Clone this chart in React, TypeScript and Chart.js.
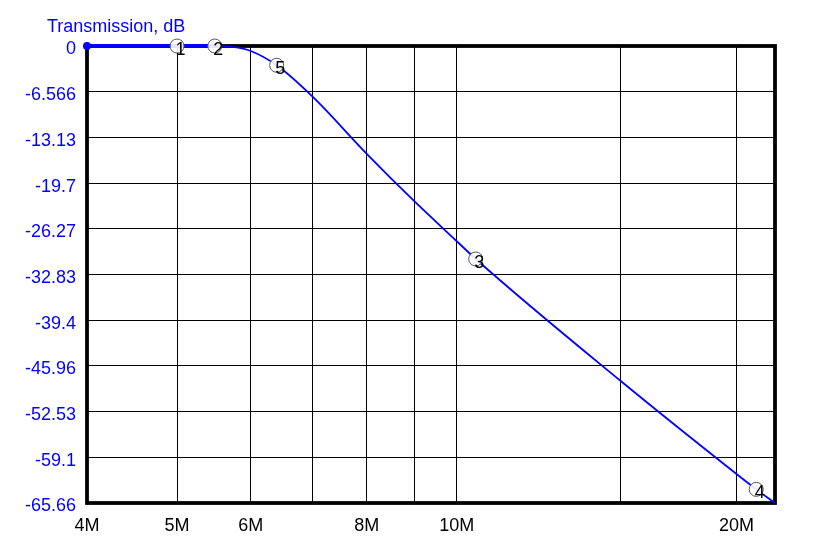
import React, { useEffect, useRef } from "react";
import { Chart, registerables } from "chart.js";

Chart.register(...registerables);

const curveFreqMHz = [4, 5, 5.49, 5.74, 6.0, 6.4, 7.0, 8.0, 9.0, 10.0, 10.48, 15.0, 20.0, 21.0, 22.0];
const curveDb = [0, 0, 0, -0.14, -0.72, -2.77, -7.32, -15.5, -22.3, -28.05, -30.6, -48.1, -61.5, -63.7, -65.66];

const markerFreqMHz = [5, 5.49, 10.48, 21.0, 6.4];
const markerDb = [0, 0, -30.6, -63.7, -2.77];
const markerLabels = ["1", "2", "3", "4", "5"];

const xGridMHz = [4, 5, 6, 7, 8, 9, 10, 15, 20];
const xLabelMHz = [4, 5, 6, 8, 10, 20];

const yTickValues = [0, -6.566, -13.132, -19.698, -26.264, -32.83, -39.396, -45.962, -52.528, -59.094, -65.66];
const yTickLabels = ["0", "-6.566", "-13.13", "-19.7", "-26.27", "-32.83", "-39.4", "-45.96", "-52.53", "-59.1", "-65.66"];

const yTitle = "Transmission, dB";

const FONT = "'Liberation Sans', Arial, sans-serif";
const BLUE = "#0000ff";

export default function App() {
  const canvasRef = useRef<HTMLCanvasElement | null>(null);

  useEffect(() => {
    const canvas = canvasRef.current;
    if (!canvas) return;

    const framePlugin = {
      id: "frame",
      beforeDatasetsDraw(chart: any) {
        const { ctx, chartArea } = chart;
        ctx.save();
        ctx.strokeStyle = "#000";
        ctx.lineWidth = 3.8;
        ctx.strokeRect(chartArea.left, chartArea.top, chartArea.right - chartArea.left, chartArea.bottom - chartArea.top);
        ctx.restore();
      },
      afterDraw(chart: any) {
        const { ctx } = chart;
        ctx.save();
        ctx.fillStyle = BLUE;
        ctx.font = `18px ${FONT}`;
        ctx.textAlign = "left";
        ctx.textBaseline = "alphabetic";
        ctx.fillText(yTitle, 47, 31.5);
        const meta = chart.getDatasetMeta(1);
        ctx.fillStyle = "#000";
        ctx.textAlign = "center";
        ctx.textBaseline = "middle";
        meta.data.forEach((pt: any, i: number) => {
          ctx.fillText(markerLabels[i], pt.x + 3.5, pt.y + 4);
        });
        ctx.restore();
      },
    };

    const chart = new Chart(canvas, {
      type: "line",
      data: {
        datasets: [
          {
            data: curveFreqMHz.map((f, i) => ({ x: f * 1e6, y: curveDb[i] })),
            borderColor: BLUE,
            borderWidth: 1.8,
            pointRadius: curveFreqMHz.map((_, i) => (i === 0 ? 4 : 0)),
            pointBackgroundColor: BLUE,
            pointBorderColor: BLUE,
            pointBorderWidth: 0,
            cubicInterpolationMode: "monotone",
            clip: false as any,
            segment: {
              borderWidth: (c: any) => (c.p0.parsed.y === 0 && c.p1.parsed.y === 0 ? 4 : 1.8),
            },
            order: 2,
          },
          {
            data: markerFreqMHz.map((f, i) => ({ x: f * 1e6, y: markerDb[i] })),
            showLine: false,
            pointRadius: 7,
            pointBackgroundColor: "rgba(255,255,255,0.9)",
            pointBorderColor: "#555",
            pointBorderWidth: 1,
            clip: false as any,
            order: 1,
          },
        ],
      },
      options: {
        animation: false,
        responsive: false,
        devicePixelRatio: 1,
        events: [],
        layout: { padding: { left: 0, top: 46, right: 44, bottom: 0 } },
        plugins: {
          legend: { display: false },
          tooltip: { enabled: false },
          title: { display: false },
        },
        scales: {
          x: {
            type: "logarithmic",
            min: 4e6,
            max: 22e6,
            afterBuildTicks: (scale: any) => {
              scale.ticks = xGridMHz.map((v) => ({ value: v * 1e6 }));
            },
            afterFit: (scale: any) => {
              scale.height = 48;
            },
            ticks: {
              autoSkip: false,
              maxRotation: 0,
              minRotation: 0,
              padding: 12,
              color: "#000",
              font: { family: FONT, size: 18 },
              callback: (value: any) => {
                const m = Number(value) / 1e6;
                return xLabelMHz.some((l) => Math.abs(l - m) < 1e-6) ? `${Math.round(m)}M` : "";
              },
            },
            grid: { color: "#000", lineWidth: 1, drawTicks: false },
            border: { display: false },
          },
          y: {
            type: "linear",
            min: -65.66,
            max: 0,
            afterBuildTicks: (scale: any) => {
              scale.ticks = [...yTickValues].sort((a, b) => a - b).map((v) => ({ value: v }));
            },
            afterFit: (scale: any) => {
              scale.width = 87;
            },
            ticks: {
              autoSkip: false,
              padding: 11,
              labelOffset: 3.5,
              color: BLUE,
              font: { family: FONT, size: 18 },
              callback: (value: any) => {
                const idx = yTickValues.findIndex((v) => Math.abs(v - Number(value)) < 1e-3);
                return idx >= 0 ? yTickLabels[idx] : "";
              },
            },
            grid: { color: "#000", lineWidth: 1, drawTicks: false },
            border: { display: false },
          },
        },
      },
      plugins: [framePlugin],
    });

    return () => chart.destroy();
  }, []);

  return (
    <div style={{ position: "absolute", left: 0, top: 0, width: 819, height: 551, background: "#fff" }}>
      <canvas ref={canvasRef} width={819} height={551} />
    </div>
  );
}
